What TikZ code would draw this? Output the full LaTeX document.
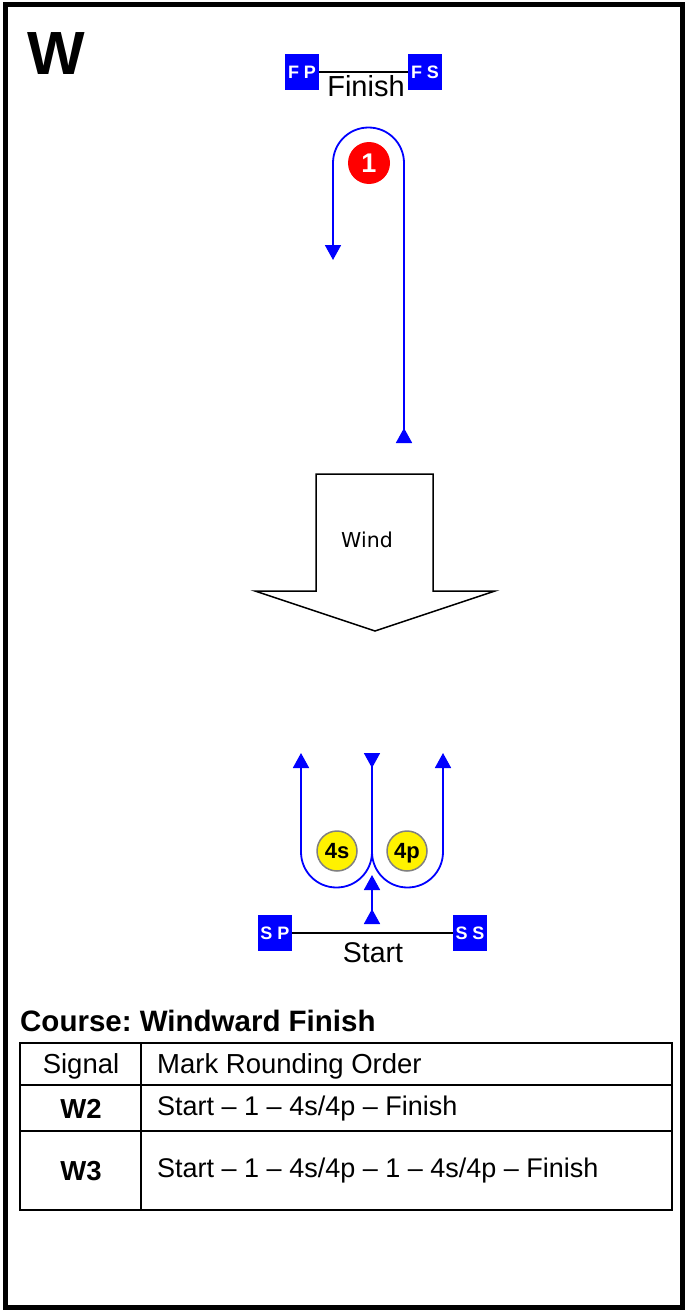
\documentclass[tikz,border=0pt]{standalone}
\usepackage{fontspec}
\setmainfont{Liberation Sans}
\newfontfamily\windfont{DejaVu Sans}
\usetikzlibrary{arrows.meta}
\frenchspacing

\tikzset{
	boattip/.tip={Triangle[width=16pt,length=15pt]},
	buoy/.style={fill=blue,minimum width=34pt,minimum height=36pt,inner sep=0pt,text=white,font=\fontsize{18}{18}\selectfont\bfseries},
	route/.style={blue,line width=1.8pt},
	markfour/.style={circle,fill=yellow,draw=gray,line width=1.5pt,minimum size=40pt,inner sep=0pt,text height=16pt,text depth=2pt,font=\fontsize{22}{22}\selectfont\bfseries},
	cell/.style={font=\fontsize{27.5}{30}\selectfont,inner sep=0pt}
}

\begin{document}
\begin{tikzpicture}[x=1pt,y=-1pt]

	\useasboundingbox (0,0) rectangle (686,1311);
	\draw[line width=5pt] (5,5) rectangle (682,1307);
	\node[anchor=base west,inner sep=0pt,font=\fontsize{61}{61}\selectfont\bfseries] (title) at (27,75) {W};

	% finish line
	\node[buoy] (fp) at (302,72) {F P};
	\node[buoy] (fs) at (425,72) {F S};
	\draw[line width=1.8pt] (fp) -- (fs);
	\node[anchor=base,inner sep=0pt,font=\fontsize{29}{29}\selectfont] (finish) at (366,97) {Finish};

	% mark 1
	\node[circle,fill=red,minimum size=42pt,inner sep=0pt,text=white,font=\fontsize{27}{27}\selectfont\bfseries] (m1) at (369,163) {1};
	\draw[route,{boattip[reversed]}-boattip] (404,443) -- (404,163) arc[start angle=0,end angle=-180,radius=35.5] -- (333,260);

	% wind
	\draw[line width=1.5pt,fill=white] (316,474) -- (433,474) -- (433,591) -- (495,591) -- (375,631) -- (255,591) -- (316,591) -- cycle;
	\node[font=\windfont\fontsize{20.5}{20.5}\selectfont] (wind) at (367,540) {Wind};

	% gate 4s/4p
	\node[markfour] (m4s) at (337,851) {4s};
	\node[markfour] (m4p) at (407,851) {4p};
	\draw[route,{boattip[reversed]}-] (372,753) -- (372,852);
	\draw[route,-boattip] (372,852) arc[start angle=0,end angle=180,radius=35.5] -- (301,753);
	\draw[route,-boattip] (372,852) arc[start angle=180,end angle=0,radius=35.5] -- (443,753);

	% start line
	\node[buoy] (sp) at (275,933) {S P};
	\node[buoy] (ss) at (470,933) {S S};
	\draw[line width=1.8pt] (sp) -- (ss);
	\coordinate (gatein) at (372,875);
	\draw[route,{boattip[reversed]}-boattip] (372,924) -- (gatein);
	\node[anchor=base,inner sep=0pt,font=\fontsize{28.5}{28.5}\selectfont] (start) at (373,962) {Start};

	% table
	\node[anchor=base west,inner sep=0pt,font=\fontsize{29.5}{29.5}\selectfont\bfseries] (course) at (20,1031) {Course: Windward Finish};
	\draw[line width=1.3pt] (20,1043) rectangle (672,1210);
	\draw[line width=1.3pt] (20,1085) -- (672,1085);
	\draw[line width=1.3pt] (20,1131) -- (672,1131);
	\draw[line width=1.3pt] (141,1043) -- (141,1210);
	\node[cell] (hsig) at (81,1066) {Signal};
	\node[cell,anchor=west] (hord) at (157,1066) {Mark Rounding Order};
	\node[cell,font=\fontsize{27.5}{30}\selectfont\bfseries] (wtwo) at (81,1109) {W2};
	\node[cell,anchor=west,font=\fontsize{27}{30}\selectfont] (otwo) at (157,1109) {Start – 1 – 4s/4p – Finish};
	\node[cell,font=\fontsize{27.5}{30}\selectfont\bfseries] (wthree) at (81,1171) {W3};
	\node[cell,anchor=west,font=\fontsize{27}{30}\selectfont] (othree) at (157,1171) {Start – 1 – 4s/4p – 1 – 4s/4p – Finish};

\end{tikzpicture}
\end{document}
